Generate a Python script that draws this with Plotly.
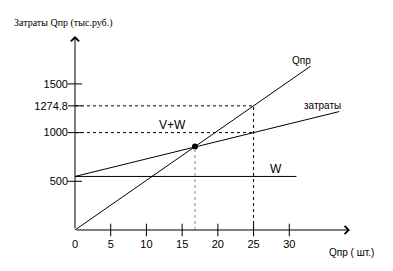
import plotly.graph_objects as go

# Data
qpr_x = [0, 33]
qpr_y = [0, 1683]
cost_x = [0, 37]
cost_y = [550, 1216]
w_x = [0, 31]
w_y = [550, 550]
bep_x = [16.8]
bep_y = [857]
x_ticks = [0, 5, 10, 15, 20, 25, 30]
y_ticks = [500, 1000, 1274.8, 1500]
y_tick_text = ["500", "1000", "1274.8", "1500"]
level_high = 1274.8
level_mid = 1000
x_target = 25

FONT = "Liberation Sans, Arial, sans-serif"
line_style = dict(color="black", width=1)

fig = go.Figure()
fig.add_trace(go.Scatter(x=qpr_x, y=qpr_y, mode="lines", line=line_style, hoverinfo="skip"))
fig.add_trace(go.Scatter(x=cost_x, y=cost_y, mode="lines", line=line_style, hoverinfo="skip"))
fig.add_trace(go.Scatter(x=w_x, y=w_y, mode="lines", line=line_style, hoverinfo="skip"))

shapes = []
dot = dict(color="black", width=1, dash="dot")
shapes.append(dict(type="line", xref="x", yref="y", x0=0, x1=x_target, y0=level_high, y1=level_high, line=dot))
shapes.append(dict(type="line", xref="x", yref="y", x0=0, x1=x_target, y0=level_mid, y1=level_mid, line=dot))
shapes.append(dict(type="line", xref="x", yref="y", x0=x_target, x1=x_target, y0=0, y1=level_high, line=dot))
shapes.append(dict(type="line", xref="x", yref="y", x0=bep_x[0], x1=bep_x[0], y0=0, y1=bep_y[0],
                   line=dict(color="#888888", width=1, dash="dot")))

# crossing tick marks as line markers
fig.add_trace(go.Scatter(x=x_ticks[1:], y=[0] * (len(x_ticks) - 1), mode="markers",
                         marker=dict(symbol="line-ns-open", size=9, color="black",
                                     line=dict(color="black", width=1)),
                         hoverinfo="skip"))
fig.add_trace(go.Scatter(x=[0] * len(y_ticks), y=y_ticks, mode="markers",
                         marker=dict(symbol="line-ew-open", size=10, color="black",
                                     line=dict(color="black", width=1)),
                         hoverinfo="skip"))

fig.add_trace(go.Scatter(x=bep_x, y=bep_y, mode="markers",
                         marker=dict(color="black", size=6), hoverinfo="skip"))

ann = []
# axes as arrows
ann.append(dict(x=0, y=1992, ax=0, ay=0, xref="x", yref="y", axref="x", ayref="y",
                showarrow=True, arrowhead=4, arrowsize=1.6, arrowwidth=1, arrowcolor="black", text=""))
ann.append(dict(x=38.5, y=0, ax=0, ay=0, xref="x", yref="y", axref="x", ayref="y",
                showarrow=True, arrowhead=4, arrowsize=1.6, arrowwidth=1, arrowcolor="black", text=""))

def label(x, y, text, size, family=FONT, xref="x", yref="y"):
    ann.append(dict(x=x, y=y, xref=xref, yref=yref, text=text, showarrow=False,
                    font=dict(family=family, size=size, color="black"), xanchor="center", yanchor="middle"))

label(31.75, 1738, "Qпр", 10)
label(34.7, 1276, "затраты", 10)
label(13.7, 1078, "V+W", 12)
label(28.15, 626, "W", 12)
label((351 - 75) / 275, (230 - 252) / 194, "Qпр ( шт.)", 10, xref="paper", yref="paper")
label((63 - 75) / 275, (230 - 23) / 194, "Затраты Qпр (тыс.руб.)", 10,
      family="Liberation Serif", xref="paper", yref="paper")

fig.update_layout(
    width=393, height=271,
    margin=dict(l=75, r=43, t=36, b=41),
    paper_bgcolor="white", plot_bgcolor="white",
    showlegend=False,
    shapes=shapes, annotations=ann,
    xaxis=dict(range=[0, 38.5], showgrid=False, zeroline=False, showline=False,
               tickvals=x_ticks, ticks="", ticklabelstandoff=6,
               tickfont=dict(family=FONT, size=11, color="black"), fixedrange=True),
    yaxis=dict(range=[0, 1992], showgrid=False, zeroline=False, showline=False,
               tickvals=y_ticks, ticktext=y_tick_text, ticks="", ticklabelstandoff=6,
               tickfont=dict(family=FONT, size=11, color="black"), fixedrange=True),
)
for tr in fig.data:
    tr.cliponaxis = False

fig.write_html("out.html", config={"displayModeBar": False})
